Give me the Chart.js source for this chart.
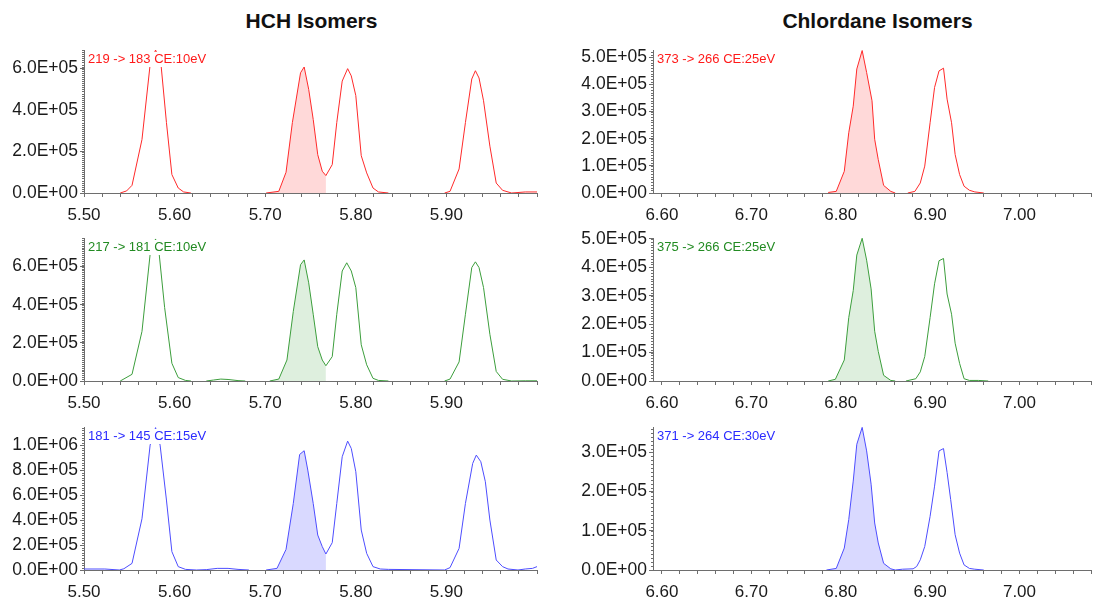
<!DOCTYPE html>
<html>
<head>
<meta charset="utf-8">
<script src="https://cdn.jsdelivr.net/npm/chart.js@4.4.1/dist/chart.umd.min.js"></script>
<style>
  body { margin: 0; background: #fff; width: 1099px; height: 599px; position: relative; overflow: hidden;
         font-family: "Liberation Sans", Arial, Helvetica, sans-serif; }
  .title { position: absolute; top: 9px; width: 400px; text-align: center; font-weight: bold;
           font-size: 21px; line-height: 24px; color: #111; }
  .panel { position: absolute; }
</style>
</head>
<body>
<div class="title" style="left:111.5px">HCH Isomers</div>
<div class="title" style="left:677.5px">Chlordane Isomers</div>

<script>
// retention time (min) / intensity pairs
const hch219 = [
  [5.500, 0], [5.540, 0], [5.547, 10000], [5.553, 37000], [5.564, 258000], [5.573, 620000],
  [5.579, 690000], [5.585, 620000], [5.591, 340000], [5.597, 89000], [5.604, 24000], [5.610, 5000],
  [5.618, 0], [5.701, 0], [5.715, 8000], [5.723, 100000], [5.730, 340000], [5.739, 580000],
  [5.743, 608000], [5.748, 500000], [5.753, 355000], [5.758, 185000], [5.763, 105000], [5.767, 84000],
  [5.774, 137000], [5.779, 340000], [5.785, 540000], [5.791, 600000], [5.795, 565000], [5.800, 470000],
  [5.806, 180000], [5.812, 97000], [5.819, 24000], [5.825, 5000], [5.836, 0], [5.898, 0],
  [5.904, 8000], [5.914, 116000], [5.921, 340000], [5.928, 550000], [5.932, 590000], [5.936, 555000],
  [5.941, 445000], [5.948, 226000], [5.955, 48000], [5.962, 13000], [5.972, 0], [5.987, 5000], [6.000, 5000]
];
const hch217 = [
  [5.500, 0], [5.540, 0], [5.553, 35000], [5.564, 260000], [5.573, 665000], [5.579, 745000],
  [5.583, 665000], [5.589, 385000], [5.597, 93000], [5.604, 18000], [5.612, 3000], [5.618, 0],
  [5.635, 0], [5.643, 5000], [5.651, 10000], [5.659, 8000], [5.670, 2000], [5.678, 0],
  [5.705, 0], [5.715, 10000], [5.724, 110000], [5.731, 365000], [5.739, 610000], [5.743, 635000],
  [5.748, 515000], [5.753, 350000], [5.758, 180000], [5.763, 110000], [5.767, 80000], [5.774, 128000],
  [5.779, 350000], [5.785, 577000], [5.790, 620000], [5.795, 577000], [5.800, 490000], [5.806, 190000],
  [5.812, 85000], [5.819, 14000], [5.825, 3000], [5.836, 0], [5.898, 0], [5.904, 10000],
  [5.914, 100000], [5.921, 350000], [5.928, 595000], [5.932, 625000], [5.936, 595000], [5.941, 490000],
  [5.948, 245000], [5.955, 50000], [5.962, 9000], [5.972, 0], [5.987, 1000], [6.000, 1000]
];
const hch181 = [
  [5.500, 8000], [5.523, 8000], [5.539, 0], [5.544, 10000], [5.553, 53000], [5.564, 410000],
  [5.573, 1000000], [5.579, 1140000], [5.584, 1000000], [5.591, 560000], [5.597, 147000], [5.604, 27000],
  [5.612, 5000], [5.624, 0], [5.635, 3000], [5.647, 13000], [5.659, 13000], [5.670, 5000],
  [5.682, 0], [5.701, 0], [5.713, 13000], [5.723, 165000], [5.731, 533000], [5.738, 925000],
  [5.743, 955000], [5.747, 800000], [5.753, 533000], [5.758, 280000], [5.763, 187000], [5.767, 128000],
  [5.774, 219000], [5.779, 533000], [5.785, 907000], [5.791, 1032000], [5.795, 973000], [5.800, 787000],
  [5.806, 320000], [5.812, 133000], [5.819, 27000], [5.827, 8000], [5.836, 5000], [5.898, 0],
  [5.904, 19000], [5.914, 173000], [5.921, 533000], [5.929, 853000], [5.933, 920000], [5.938, 867000],
  [5.943, 707000], [5.948, 400000], [5.955, 80000], [5.962, 27000], [5.968, 8000], [5.979, 0],
  [5.987, 8000], [5.995, 13000], [6.000, 27000]
];
const chl373 = [
  [6.786, 2000], [6.795, 6000], [6.804, 80000], [6.809, 222000], [6.814, 320000], [6.818, 457000],
  [6.824, 525000], [6.829, 444000], [6.835, 340000], [6.838, 198000], [6.842, 123000], [6.848, 28000],
  [6.856, 6000], [6.861, 0], [6.875, 0], [6.883, 6000], [6.889, 37000], [6.894, 99000],
  [6.900, 259000], [6.905, 389000], [6.910, 450000], [6.915, 460000], [6.919, 346000], [6.924, 259000],
  [6.928, 142000], [6.933, 68000], [6.938, 25000], [6.944, 10000], [6.950, 4000], [6.960, 0]
];
const chl375 = [
  [6.786, 0], [6.794, 6000], [6.804, 74000], [6.809, 223000], [6.814, 318000], [6.818, 443000],
  [6.824, 502000], [6.829, 425000], [6.834, 324000], [6.838, 175000], [6.842, 104000], [6.848, 20000],
  [6.856, 2000], [6.861, 0], [6.873, 0], [6.884, 8000], [6.889, 32000], [6.894, 86000],
  [6.900, 223000], [6.905, 342000], [6.910, 423000], [6.915, 431000], [6.919, 306000], [6.924, 235000],
  [6.928, 133000], [6.933, 62000], [6.938, 8000], [6.944, 2000], [6.954, 2000], [6.965, 0]
];
const chl371 = [
  [6.784, 0], [6.795, 4000], [6.804, 56000], [6.809, 129000], [6.814, 227000], [6.818, 321000],
  [6.824, 364000], [6.829, 304000], [6.834, 219000], [6.838, 120000], [6.842, 69000], [6.848, 17000],
  [6.856, 3000], [6.861, 0], [6.869, 2000], [6.881, 3000], [6.885, 9000], [6.889, 26000],
  [6.894, 60000], [6.900, 137000], [6.905, 214000], [6.910, 304000], [6.915, 310000], [6.919, 249000],
  [6.923, 180000], [6.928, 90000], [6.933, 43000], [6.938, 13000], [6.944, 4000], [6.950, 2000], [6.960, 0]
];

const traceLabels = ['219 -> 183 CE:10eV', '217 -> 181 CE:10eV', '181 -> 145 CE:15eV',
                     '373 -> 266 CE:25eV', '375 -> 266 CE:25eV', '371 -> 264 CE:30eV'];
const hchRange = [5.50, 6.00];
const chlRange = [6.59, 7.08];
const hchShaded = [5.70, 5.768];   // integrated peak
const chlShaded = [6.78, 6.862];

const FONT = '"Liberation Sans", Arial, Helvetica, sans-serif';
const AXIS = '#6e6e6e';
const red = { line: '#ff2a2a', text: '#ff1a1a', shade: 'rgba(255,0,0,0.15)' };
const green = { line: '#3c9e3c', text: '#228b22', shade: 'rgba(0,128,0,0.13)' };
const blue = { line: '#4d4dff', text: '#2b2bff', shade: 'rgba(0,0,255,0.15)' };

const panels = [
  { pts: hch219, label: traceLabels[0], col: 0, row: 0, c: red,   x: hchRange, shade: hchShaded, yMax: 690000,  yStep: 200000, minor: 10000 },
  { pts: hch217, label: traceLabels[1], col: 0, row: 1, c: green, x: hchRange, shade: hchShaded, yMax: 750000,  yStep: 200000, minor: 10000 },
  { pts: hch181, label: traceLabels[2], col: 0, row: 2, c: blue,  x: hchRange, shade: hchShaded, yMax: 1145000, yStep: 200000, minor: 20000 },
  { pts: chl373, label: traceLabels[3], col: 1, row: 0, c: red,   x: chlRange, shade: chlShaded, yMax: 527000,  yStep: 100000, minor: 10000 },
  { pts: chl375, label: traceLabels[4], col: 1, row: 1, c: green, x: chlRange, shade: chlShaded, yMax: 503000,  yStep: 100000, minor: 10000 },
  { pts: chl371, label: traceLabels[5], col: 1, row: 2, c: blue,  x: chlRange, shade: chlShaded, yMax: 365000,  yStep: 100000, minor: 10000 }
];

const colGeom = [ { left: 0, width: 545, padRight: 6 }, { left: 569, width: 530, padRight: 1 } ];
const rowTops = [50, 238, 427];
const PLOT_H = 143, PAD_TOP = 14, XAXIS_H = 40, YAXIS_W = 84;

function fmtE(v) {
  if (v === 0) return '0.0E+00';
  const e = Math.floor(Math.log10(Math.abs(v)) + 1e-9);
  const m = v / Math.pow(10, e);
  return m.toFixed(1) + 'E' + (e < 0 ? '-' : '+') + String(Math.abs(e)).padStart(2, '0');
}

function stepTicks(from, to, step) {
  const out = [];
  const k0 = Math.ceil(from / step - 1e-6);
  for (let k = k0; k * step <= to + 1e-9; k++) out.push({ value: +(k * step).toFixed(6) });
  return out;
}

// small unlabeled ticks along the intensity axis
const minorTicks = {
  id: 'minorTicks',
  afterDraw(chart, args, opts) {
    const y = chart.scales.y, ctx = chart.ctx;
    ctx.save();
    ctx.strokeStyle = AXIS;
    ctx.lineWidth = 1;
    ctx.beginPath();
    for (let v = 0; v <= y.max; v += opts.step) {
      const py = Math.round(y.getPixelForValue(v)) + 0.5;
      ctx.moveTo(y.right - 2, py);
      ctx.lineTo(y.right, py);
    }
    ctx.stroke();
    ctx.restore();
  }
};

// transition label in the top-left corner
const traceLabel = {
  id: 'traceLabel',
  afterDatasetsDraw(chart, args, opts) {
    const { ctx, chartArea } = chart;
    ctx.save();
    ctx.font = '13px ' + FONT;
    const w = ctx.measureText(opts.text).width;
    ctx.fillStyle = '#fff';
    ctx.fillRect(chartArea.left + 2, chartArea.top + 2, w + 4, 15);
    ctx.fillStyle = opts.color;
    ctx.textBaseline = 'middle';
    ctx.fillText(opts.text, chartArea.left + 4, chartArea.top + 9.5);
    ctx.restore();
  }
};

// flat zero stretches sit under the time axis
const onBaseline = (ctx) => (ctx.p0.parsed.y === 0 && ctx.p1.parsed.y === 0 ? 'rgba(0,0,0,0)' : undefined);

panels.forEach((p) => {
  const g = colGeom[p.col];
  const div = document.createElement('div');
  div.className = 'panel';
  const h = PAD_TOP + PLOT_H + XAXIS_H;
  div.style.left = g.left + 'px';
  div.style.top = (rowTops[p.row] - PAD_TOP) + 'px';
  div.style.width = g.width + 'px';
  div.style.height = h + 'px';
  const canvas = document.createElement('canvas');
  canvas.width = g.width;
  canvas.height = h;
  div.appendChild(canvas);
  document.body.appendChild(div);

  const shaded = p.pts.filter((d) => d[0] >= p.shade[0] && d[0] <= p.shade[1]);
  const [xMin, xMax] = p.x;

  new Chart(canvas, {
    type: 'line',
    data: {
      datasets: [
        { data: p.pts, borderColor: p.c.line, borderWidth: 1, pointRadius: 0, tension: 0, fill: false,
          segment: { borderColor: onBaseline } },
        { data: shaded, borderWidth: 0, borderColor: 'rgba(0,0,0,0)', backgroundColor: p.c.shade,
          pointRadius: 0, tension: 0, fill: 'origin' }
      ]
    },
    options: {
      responsive: false,
      animation: false,
      devicePixelRatio: 1,
      layout: { padding: { top: PAD_TOP, right: g.padRight, left: 0, bottom: 0 } },
      plugins: {
        legend: { display: false },
        tooltip: { enabled: false },
        traceLabel: { text: p.label, color: p.c.text },
        minorTicks: { step: p.minor }
      },
      scales: {
        x: {
          type: 'linear', min: xMin, max: xMax, bounds: 'data', z: 1,
          border: { color: AXIS, width: 1 },
          grid: { drawOnChartArea: false, tickLength: 4, color: AXIS },
          afterBuildTicks: (s) => { s.ticks = stepTicks(xMin, xMax, 0.02); },
          ticks: {
            autoSkip: false, maxRotation: 0, minRotation: 0, padding: 8, color: '#1a1a1a',
            font: { size: 17, family: FONT },
            callback: (v) => {
              const k = Math.round(v * 10);
              return Math.abs(v * 10 - k) < 1e-6 && v < xMax - 1e-6 ? v.toFixed(2) : '';
            }
          },
          afterFit: (s) => { s.height = XAXIS_H; }
        },
        y: {
          type: 'linear', min: 0, max: p.yMax, bounds: 'data', z: 1,
          border: { color: AXIS, width: 1 },
          grid: { drawOnChartArea: false, tickLength: 4, color: AXIS },
          afterBuildTicks: (s) => { s.ticks = stepTicks(0, p.yMax, p.yStep); },
          ticks: {
            autoSkip: false, padding: 2, color: '#1a1a1a',
            font: { size: 17.5, family: FONT },
            callback: (v) => fmtE(v)
          },
          afterFit: (s) => { s.width = YAXIS_W; }
        }
      }
    },
    plugins: [traceLabel, minorTicks]
  });
});
</script>
</body>
</html>
